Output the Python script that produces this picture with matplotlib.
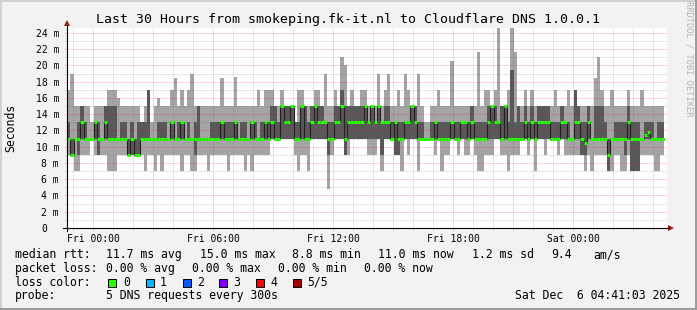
import numpy as np
import matplotlib
matplotlib.use("Agg")
import matplotlib.pyplot as plt
from matplotlib.lines import Line2D
from matplotlib.patches import Rectangle, Polygon

W, H = 697, 310
MONO = "DejaVu Sans Mono"

# hours relative to Fri 00:00, one sample every 10 min
t_first = -1.3
step_h = 10 / 60

# five sorted DNS ping times per sample (ms): fastest, 2nd, median, 4th, slowest
ping_min = [
    9, 8.8, 7, 7, 9, 9, 9, 11, 9, 9, 9, 9, 7, 7, 7, 9, 9, 9, 9, 9, 9, 9, 9, 7, 9, 9, 7, 9, 7, 9,
    9, 9, 9, 9, 7, 9, 9, 7, 7, 9, 9, 9, 7, 9, 9, 9, 9, 9, 7, 9, 9, 9, 9, 7, 9, 7, 9, 9, 9, 9,
    9, 11, 11, 11, 11, 11, 11, 11, 9, 7, 9, 9, 7, 11, 11, 11, 11, 11, 4.8, 9, 11, 11, 11, 9, 9, 11, 11, 11, 11, 11,
    9, 9, 9, 11, 7, 11, 11, 11, 9, 9, 7, 11, 9, 11, 11, 7, 11, 11, 11, 11, 9, 11, 7, 9, 9, 11, 11, 9, 11, 9,
    9, 11, 9, 7, 7, 9, 9, 9, 11, 11, 9, 9, 7, 9, 9, 9, 11, 11, 9, 11, 7, 11, 11, 9, 11, 11, 11, 9, 11, 9,
    9, 9, 9, 9, 9, 7, 9, 7, 9, 9, 9, 9, 7, 7, 9, 9, 7, 7, 9, 7, 7, 7, 9, 9, 9, 9, 7, 7, 9,
]
ping_2nd = [
    11, 9, 11, 9, 11, 11, 11, 11, 11, 9, 11, 11, 11, 11, 11, 11, 11, 11, 9, 9, 9, 9, 11, 11, 11, 11, 11, 11, 11, 11,
    11, 11, 11, 11, 11, 11, 11, 11, 9, 11, 11, 11, 11, 11, 11, 11, 11, 11, 11, 11, 11, 11, 11, 11, 11, 11, 11, 11, 11, 11,
    11, 11, 11, 11, 11, 11, 11, 11, 11, 11, 11, 11, 11, 11, 11, 11, 11, 11, 9, 11, 11, 11, 11, 9, 11, 11, 11, 11, 11, 11,
    11, 11, 11, 11, 9, 11, 11, 11, 9, 9, 11, 11, 11, 11, 11, 11, 11, 11, 11, 11, 11, 11, 11, 11, 11, 11, 11, 11, 11, 11,
    11, 11, 11, 11, 11, 11, 11, 11, 11, 11, 11, 11, 11, 11, 11, 11, 11, 11, 11, 11, 11, 11, 11, 11, 11, 11, 11, 11, 11, 11,
    11, 11, 11, 11, 9, 9, 11, 11, 11, 11, 11, 11, 7, 11, 11, 11, 11, 9, 11, 7, 7, 7, 11, 11, 11, 11, 11, 11, 11,
]
ping_med = [
    11, 9, 11, 11, 13, 11, 11, 11, 13, 11, 11, 13, 11, 11, 11, 11, 11, 11, 9, 11, 9, 9, 11, 11, 11, 11, 11, 11, 11, 11,
    11, 13, 11, 11, 13, 11, 11, 11, 11, 11, 11, 11, 11, 11, 11, 11, 13, 11, 11, 11, 13, 11, 11, 11, 11, 13, 11, 11, 11, 13,
    11, 13, 11, 11, 15, 13, 13, 15, 11, 11, 15, 11, 11, 13, 15, 13, 13, 13, 11, 11, 13, 13, 15, 11, 13, 13, 13, 13, 13, 15,
    13, 15, 13, 15, 13, 13, 13, 11, 13, 11, 11, 13, 13, 15, 13, 11, 11, 11, 11, 11, 13, 11, 11, 11, 11, 13, 11, 11, 13, 13,
    11, 13, 11, 11, 11, 11, 13, 15, 13, 13, 11, 15, 11, 11, 11, 11, 11, 13, 11, 13, 11, 13, 13, 13, 13, 11, 11, 11, 13, 13,
    11, 11, 13, 13, 11, 10.5, 13, 11, 11, 11, 11, 11, 9, 11, 11, 11, 11, 11, 13, 11, 11, 11, 11, 11.5, 11.8, 11, 11, 11, 11,
]
ping_4th = [
    13, 11, 11, 13, 15, 13, 11, 11, 13, 13, 11, 15, 15, 15, 15, 11, 13, 13, 11, 13, 11, 13, 13, 13, 17, 11, 11, 13, 13, 13,
    11, 13, 11, 13, 13, 11, 13, 11, 13, 15, 11, 11, 11, 13, 13, 13, 13, 13, 13, 13, 13, 11, 13, 13, 11, 13, 13, 11, 13, 13,
    13, 15, 15, 13, 15, 15, 15, 15, 13, 13, 15, 15, 13, 15, 15, 15, 15, 13, 13, 13, 15, 15, 17, 15, 15, 15, 15, 15, 15, 15,
    13, 15, 13, 15, 13, 15, 15, 13, 13, 13, 13, 13, 13, 15, 15, 13, 13, 11, 11, 13, 13, 13, 13, 13, 13, 13, 13, 13, 13, 13,
    13, 15, 13, 13, 13, 13, 15, 15, 15, 13, 15, 15, 13, 19.4, 13, 15, 13, 15, 13, 15, 13, 15, 15, 15, 15, 13, 13, 13, 15, 13,
    13, 11, 17, 15, 13, 13, 15, 11, 15, 15, 15, 13, 11, 11, 13, 13, 13, 13, 15, 13, 13, 13, 11, 13, 13, 13, 11, 13, 13,
]
ping_max = [
    17, 19, 15, 15, 15, 15, 15, 13, 15, 15, 15, 15, 17, 17, 17, 16, 15, 15, 15, 15, 15, 15, 13, 15, 17, 13, 15, 16, 15, 15,
    15, 17, 18.4, 15, 17, 15, 17, 19, 15, 15, 15, 15, 15, 15, 15, 15, 18.4, 15, 15, 15, 18.6, 15, 15, 15, 15, 15, 15, 17, 15, 17,
    17, 17, 15, 15, 17, 15, 15, 15, 13, 17, 17, 15, 15, 15, 17, 17, 15, 19, 15, 15, 17, 15, 21, 20, 15, 17, 15, 15, 17, 17,
    15, 15, 15, 19, 15, 17, 19, 15, 15, 17, 15, 19, 17, 15, 15, 19, 15, 13, 13, 15, 15, 17, 15, 15, 15, 20.5, 15, 15, 15, 15,
    15, 15, 15, 21.7, 15, 17, 17, 15, 17, 24.6, 15, 15, 17, 24.6, 21.6, 15, 15, 17, 15, 17, 15, 15, 15, 15, 15, 15, 17, 15, 15, 15,
    17, 15, 17, 15, 15, 15, 15, 15, 18.4, 21.1, 17, 15, 15, 17, 15, 15, 15, 15, 17, 15, 15, 15, 17, 15, 15, 15, 15, 15, 15,
]

y_ticks = [0, 2, 4, 6, 8, 10, 12, 14, 16, 18, 20, 22, 24]
x_label_hours = [0, 6, 12, 18, 24]
x_labels = ["Fri 00:00", "Fri 06:00", "Fri 12:00", "Fri 18:00", "Sat 00:00"]

loss_labels = ["0", "1", "2", "3", "4", "5/5"]
loss_colors = ["#26ff00", "#00b8ff", "#0059ff", "#7e00ff", "#ff0000", "#a00000"]

title = "Last 30 Hours from smokeping.fk-it.nl to Cloudflare DNS 1.0.0.1"
rows = [
    [("median rtt:", 15), ("11.7 ms avg", 106), ("15.0 ms max", 200.5), ("8.8 ms min", 292.5),
     ("11.0 ms now", 378), ("1.2 ms sd", 471.5), ("9.4", 551), ("am/s", 593.5)],
    [("packet loss:", 15), ("0.00 % avg", 106.5), ("0.00 % max", 192.5), ("0.00 % min", 278.5),
     ("0.00 % now", 364.5)],
    [("loss color:", 15)],
    [("probe:", 15), ("5 DNS requests every 300s", 106.5)],
]
row_base = [258, 271.8, 285.6, 299.3]
box_x = [108.3, 145.7, 182.7, 219.3, 256, 292.7]
label_x = [123.5, 159.8, 196.8, 233.5, 270.5, 307.5]

n = len(ping_med)
assert all(len(a) == n for a in (ping_min, ping_2nd, ping_4th, ping_max))
t = t_first + np.arange(n + 1) * step_h


def ext(a):
    a = np.asarray(a, dtype=float)
    return np.append(a, a[-1])


def fx(x):
    return x / W


def fy(y):
    return 1 - y / H


fig = plt.figure(figsize=(W / 100, H / 100), dpi=100)
fig.patch.set_facecolor("#f2f2f2")

ax = fig.add_axes([fx(67), fy(228), 600 / W, 200 / H])
ax.set_facecolor("white")
for s in ax.spines.values():
    s.set_visible(False)
ax.set_xlim(-1.3, 28.7)
ax.set_ylim(0, 24.615)

# smoke: outer pair light, inner pair dark
ax.fill_between(t, ext(ping_min), ext(ping_max), step="post", color="#a4a4a4", lw=0, zorder=1)
ax.fill_between(t, ext(ping_2nd), ext(ping_4th), step="post", color="#585858", lw=0, zorder=2)

mgrid = (1, 0, 0, 0.33)
grid = (0.45, 0.45, 0.45, 0.35)
dots = (0, (1, 1))
for v in range(1, 25):
    ax.axhline(v, color=mgrid if v % 2 == 0 else grid, lw=0.72, ls=dots, zorder=3)
for h in range(-1, 29):
    ax.axvline(h, color=mgrid if h % 3 == 0 else grid, lw=0.72, ls=dots, zorder=3)

# median: dark connector plus loss coloured steps
ax.step(t, ext(ping_med), where="post", color="#202020", lw=0.8, zorder=4)
ax.hlines(ping_med, t[:-1], t[1:], colors=loss_colors[0], lw=2.2, zorder=5)

ax.set_yticks(y_ticks)
ax.set_yticks(range(1, 25, 2), minor=True)
ax.set_xticks(range(0, 28, 3))
ax.set_xticks(range(-1, 29), minor=True)
ax.tick_params(which="major", length=1.6, width=0.72, color=mgrid,
               labelleft=False, labelbottom=False)
ax.tick_params(which="minor", length=1.6, width=0.72, color=grid)

ytr = ax.get_yaxis_transform()
for v in y_ticks:
    if v:
        ax.text(-8 / 600, v, f"{v} m", transform=ytr, ha="right", va="center_baseline",
                fontsize=7.06, family=MONO, clip_on=False)
    else:
        ax.text(-20 / 600, v, "0", transform=ytr, ha="right", va="center_baseline",
                fontsize=7.06, family=MONO, clip_on=False)
xtr = ax.get_xaxis_transform()
for h, lab in zip(x_label_hours, x_labels):
    ax.text(h, -14 / 200, lab, transform=xtr, ha="center", va="baseline",
            fontsize=7.06, family=MONO, clip_on=False)

# axis lines and arrows
fig.add_artist(Line2D([fx(63), fx(669)], [fy(228), fy(228)], color="black", lw=0.8))
fig.add_artist(Line2D([fx(67), fx(67)], [fy(231), fy(25)], color="black", lw=0.8))
fig.add_artist(Polygon([(fx(668), fy(225)), (fx(668), fy(231)), (fx(674), fy(228))],
                       closed=True, color="#a01818", lw=0))
fig.add_artist(Polygon([(fx(64), fy(26)), (fx(70), fy(26)), (fx(67), fy(20))],
                       closed=True, color="#a01818", lw=0))

fig.text(fx(347.5), fy(23.5), title, ha="center", va="baseline", fontsize=9.55, family=MONO)
fig.text(fx(11), fy(128), "Seconds", rotation=90, ha="center", va="center",
         fontsize=8.3, family=MONO)
fig.text(fx(689), fy(59), "RRDTOOL / TOBI OETIKER", rotation=270, ha="center", va="center",
         fontsize=6.2, family=MONO, color="#b4b4b4")

for items, yb in zip(rows, row_base):
    for s, x in items:
        fig.text(fx(x), fy(yb), s, ha="left", va="baseline", fontsize=8.3, family=MONO)
for bx, lx, c, lab in zip(box_x, label_x, loss_colors, loss_labels):
    fig.add_artist(Rectangle((fx(bx), fy(287)), 8 / W, 8 / H, transform=fig.transFigure,
                             facecolor=c, edgecolor="black", lw=0.72))
    fig.text(fx(lx), fy(285.6), lab, ha="left", va="baseline", fontsize=8.3, family=MONO)
fig.text(fx(680), fy(299.3), "Sat Dec  6 04:41:03 2025", ha="right", va="baseline",
         fontsize=8.3, family=MONO)

# shaded frame
fig.add_artist(Rectangle((0, fy(2)), 1, 2 / H, transform=fig.transFigure, color="#d0d0d0", lw=0))
fig.add_artist(Rectangle((0, 0), 2 / W, 1, transform=fig.transFigure, color="#d0d0d0", lw=0))
fig.add_artist(Rectangle((0, 0), 1, 2 / H, transform=fig.transFigure, color="#9c9c9c", lw=0))
fig.add_artist(Rectangle((fx(695), 0), 2 / W, 1, transform=fig.transFigure, color="#9c9c9c", lw=0))

fig.savefig("out.png", dpi=100, facecolor=fig.get_facecolor())
